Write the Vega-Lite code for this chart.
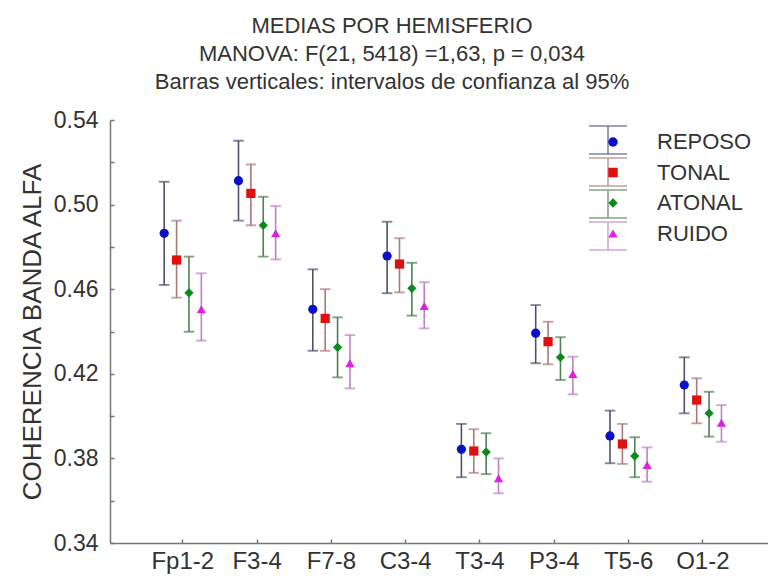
{
  "$schema": "https://vega.github.io/schema/vega-lite/v6.json",
  "width": 658,
  "height": 423,
  "autosize": "none",
  "padding": {"left": 110, "top": 120, "right": 0, "bottom": 38},
  "background": "white",
  "title": {
    "text": ["MEDIAS POR HEMISFERIO", "MANOVA: F(21, 5418) =1,63, p = 0,034", "Barras verticales: intervalos de confianza al 95%"],
    "font": "Liberation Sans, Arial, sans-serif",
    "fontSize": 22,
    "fontWeight": "normal",
    "color": "#333333",
    "lineHeight": 28,
    "anchor": "middle",
    "dx": -47,
    "offset": 15
  },
  "config": {
    "view": {"stroke": null},
    "axis": {"grid": false}
  },
  "data": {
    "values": [
      {"cat": "Fp1-2", "cond": "REPOSO", "mean": 0.4864, "lo": 0.4620, "hi": 0.5108},
      {"cat": "Fp1-2", "cond": "TONAL", "mean": 0.4738, "lo": 0.4560, "hi": 0.4924},
      {"cat": "Fp1-2", "cond": "ATONAL", "mean": 0.4583, "lo": 0.4399, "hi": 0.4754},
      {"cat": "Fp1-2", "cond": "RUIDO", "mean": 0.4505, "lo": 0.4357, "hi": 0.4675},
      {"cat": "F3-4", "cond": "REPOSO", "mean": 0.5113, "lo": 0.4924, "hi": 0.5302},
      {"cat": "F3-4", "cond": "TONAL", "mean": 0.5053, "lo": 0.4902, "hi": 0.5190},
      {"cat": "F3-4", "cond": "ATONAL", "mean": 0.4902, "lo": 0.4754, "hi": 0.5037},
      {"cat": "F3-4", "cond": "RUIDO", "mean": 0.4864, "lo": 0.4741, "hi": 0.4993},
      {"cat": "F7-8", "cond": "REPOSO", "mean": 0.4505, "lo": 0.4309, "hi": 0.4694},
      {"cat": "F7-8", "cond": "TONAL", "mean": 0.4462, "lo": 0.4309, "hi": 0.4600},
      {"cat": "F7-8", "cond": "ATONAL", "mean": 0.4325, "lo": 0.4183, "hi": 0.4467},
      {"cat": "F7-8", "cond": "RUIDO", "mean": 0.4250, "lo": 0.4131, "hi": 0.4383},
      {"cat": "C3-4", "cond": "REPOSO", "mean": 0.4757, "lo": 0.4581, "hi": 0.4919},
      {"cat": "C3-4", "cond": "TONAL", "mean": 0.4719, "lo": 0.4585, "hi": 0.4841},
      {"cat": "C3-4", "cond": "ATONAL", "mean": 0.4604, "lo": 0.4475, "hi": 0.4725},
      {"cat": "C3-4", "cond": "RUIDO", "mean": 0.4521, "lo": 0.4415, "hi": 0.4633},
      {"cat": "T3-4", "cond": "REPOSO", "mean": 0.3843, "lo": 0.3711, "hi": 0.3963},
      {"cat": "T3-4", "cond": "TONAL", "mean": 0.3835, "lo": 0.3732, "hi": 0.3938},
      {"cat": "T3-4", "cond": "ATONAL", "mean": 0.3830, "lo": 0.3726, "hi": 0.3919},
      {"cat": "T3-4", "cond": "RUIDO", "mean": 0.3706, "lo": 0.3635, "hi": 0.3800},
      {"cat": "P3-4", "cond": "REPOSO", "mean": 0.4392, "lo": 0.4250, "hi": 0.4525},
      {"cat": "P3-4", "cond": "TONAL", "mean": 0.4352, "lo": 0.4245, "hi": 0.4446},
      {"cat": "P3-4", "cond": "ATONAL", "mean": 0.4278, "lo": 0.4171, "hi": 0.4373},
      {"cat": "P3-4", "cond": "RUIDO", "mean": 0.4199, "lo": 0.4103, "hi": 0.4281},
      {"cat": "T5-6", "cond": "REPOSO", "mean": 0.3906, "lo": 0.3777, "hi": 0.4026},
      {"cat": "T5-6", "cond": "TONAL", "mean": 0.3868, "lo": 0.3774, "hi": 0.3963},
      {"cat": "T5-6", "cond": "ATONAL", "mean": 0.3811, "lo": 0.3711, "hi": 0.3900},
      {"cat": "T5-6", "cond": "RUIDO", "mean": 0.3769, "lo": 0.3690, "hi": 0.3852},
      {"cat": "O1-2", "cond": "REPOSO", "mean": 0.4147, "lo": 0.4013, "hi": 0.4278},
      {"cat": "O1-2", "cond": "TONAL", "mean": 0.4076, "lo": 0.3966, "hi": 0.4179},
      {"cat": "O1-2", "cond": "ATONAL", "mean": 0.4013, "lo": 0.3903, "hi": 0.4115},
      {"cat": "O1-2", "cond": "RUIDO", "mean": 0.3969, "lo": 0.3879, "hi": 0.4052}
    ]
  },
  "encoding": {
    "x": {
      "field": "cat", "type": "nominal",
      "sort": ["Fp1-2", "F3-4", "F7-8", "C3-4", "T3-4", "P3-4", "T5-6", "O1-2"],
      "scale": {"paddingInner": 0, "paddingOuter": 0.428, "align": 0.56},
      "axis": {
        "title": null, "labelAngle": 0,
        "labelFont": "Liberation Sans, Arial, sans-serif",
        "labelFontSize": 24, "labelColor": "#333333",
        "tickSize": -4, "tickColor": "#777777", "tickWidth": 1.5,
        "domainColor": "#777777", "domainWidth": 1.5,
        "labelPadding": 10
      }
    },
    "xOffset": {
      "field": "cond", "type": "nominal",
      "sort": ["REPOSO", "TONAL", "ATONAL", "RUIDO"],
      "scale": {"paddingInner": 0, "paddingOuter": 1.27}
    }
  },
  "layer": [
    {
      "mark": {"type": "rule", "strokeWidth": 1.6},
      "encoding": {
        "y": {
          "field": "lo", "type": "quantitative",
          "scale": {"domain": [0.34, 0.54], "nice": false, "zero": false},
          "axis": {
            "title": "COHERENCIA BANDA ALFA",
            "titleFont": "Liberation Sans, Arial, sans-serif",
            "titleFontSize": 26, "titleFontWeight": "normal", "titleColor": "#333333",
            "titlePadding": 8,
            "values": [0.34, 0.36, 0.38, 0.40, 0.42, 0.44, 0.46, 0.48, 0.50, 0.52, 0.54],
            "labelExpr": "round(datum.value*100) % 4 == 2 ? format(datum.value, '.2f') : ''",
            "labelFont": "Liberation Sans, Arial, sans-serif",
            "labelFontSize": 23, "labelColor": "#333333",
            "tickSize": -4, "tickColor": "#777777", "tickWidth": 1.5,
            "domainColor": "#777777", "domainWidth": 1.5,
            "labelPadding": 16
          }
        },
        "y2": {"field": "hi"},
        "stroke": {
          "field": "cond", "type": "nominal",
          "sort": ["REPOSO", "TONAL", "ATONAL", "RUIDO"],
          "scale": {"range": ["#4e5270", "#a87a78", "#4f7f52", "#c080c8"]},
          "legend": {
            "title": null, "orient": "none", "legendX": 487, "legendY": 9, "padding": 0, "zindex": 1,
            "symbolType": "M-1.9,-1.4H1.9M0,-1.4V1.4M-1.9,1.4H1.9",
            "symbolSize": 400, "symbolStrokeWidth": 1.6, "symbolOpacity": 1,
            "labelExpr": "''",
            "labelFontSize": 1,
            "rowPadding": -4, "labelOffset": 0
          }
        }
      }
    },
    {
      "mark": {"type": "tick", "size": 9, "thickness": 0.4, "filled": false, "strokeWidth": 1.5},
      "encoding": {
        "y": {"field": "lo", "type": "quantitative"},
        "stroke": {"field": "cond", "type": "nominal", "sort": ["REPOSO", "TONAL", "ATONAL", "RUIDO"]}
      }
    },
    {
      "mark": {"type": "tick", "size": 9, "thickness": 0.4, "filled": false, "strokeWidth": 1.5},
      "encoding": {
        "y": {"field": "hi", "type": "quantitative"},
        "stroke": {"field": "cond", "type": "nominal", "sort": ["REPOSO", "TONAL", "ATONAL", "RUIDO"]}
      }
    },
    {
      "mark": {"type": "point", "filled": true, "opacity": 1, "size": 85},
      "encoding": {
        "y": {"field": "mean", "type": "quantitative"},
        "color": {
          "field": "cond", "type": "nominal",
          "scale": {"domain": ["REPOSO", "TONAL", "ATONAL", "RUIDO"], "range": ["#0a10c8", "#e01010", "#0a8a1a", "#e020e0"]},
          "legend": {
            "title": null, "orient": "none", "legendX": 492, "legendY": 11, "padding": 0, "zindex": 2,
            "labelFont": "Liberation Sans, Arial, sans-serif",
            "labelFontSize": 22, "labelColor": "#333333",
            "symbolSize": 90, "symbolOpacity": 1, "rowPadding": 8.5, "labelOffset": 33, "symbolStrokeWidth": 0
          }
        },
        "shape": {
          "field": "cond", "type": "nominal",
          "scale": {"domain": ["REPOSO", "TONAL", "ATONAL", "RUIDO"], "range": ["circle", "square", "diamond", "triangle-up"]}
        }
      }
    }
  ]
}
